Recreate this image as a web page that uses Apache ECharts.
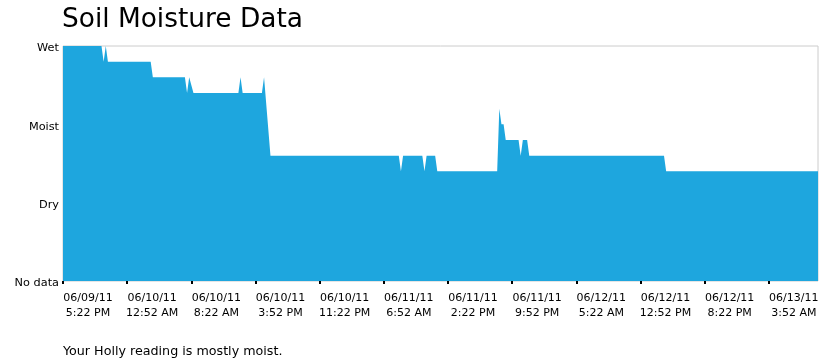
<!DOCTYPE html>
<html>
<head>
<meta charset="utf-8">
<script src="https://cdn.jsdelivr.net/npm/echarts@6/dist/echarts.min.js"></script>
<style>
html,body{margin:0;padding:0;background:#fff;}
#chart{width:833px;height:361px;}
</style>
</head>
<body>
<div id="chart"></div>
<script>
// Readings every 15 minutes: sample index and moisture level (0 = No data, 1 = Dry, 2 = Moist, 3 = Wet)
var sampleIndex = [0, 18, 19, 20, 21, 41, 42, 57, 58, 59, 61, 82, 83, 84, 93, 94, 97, 157, 158, 159, 168, 169, 170, 174, 175, 203, 204, 205, 206, 207, 213, 214, 215, 217, 218, 281, 282, 353];
var moisture    = [3.0, 3.0, 2.8, 3.0, 2.8, 2.8, 2.6, 2.6, 2.4, 2.6, 2.4, 2.4, 2.6, 2.4, 2.4, 2.6, 1.6, 1.6, 1.4, 1.6, 1.6, 1.4, 1.6, 1.6, 1.4, 1.4, 2.2, 2.0, 2.0, 1.8, 1.8, 1.6, 1.8, 1.8, 1.6, 1.6, 1.4, 1.4];
var levelLabels = ['No data', 'Dry', 'Moist', 'Wet'];
var tickDates = ['06/09/11', '06/10/11', '06/10/11', '06/10/11', '06/10/11', '06/11/11',
                 '06/11/11', '06/11/11', '06/12/11', '06/12/11', '06/12/11', '06/13/11'];
var tickTimes = ['5:22 PM', '12:52 AM', '8:22 AM', '3:52 PM', '11:22 PM', '6:52 AM',
                 '2:22 PM', '9:52 PM', '5:22 AM', '12:52 PM', '8:22 PM', '3:52 AM'];
var samplesPerTick = 30;
var lastSample = 353;
var titleText = 'Soil Moisture Data';
var footerText = 'Your Holly reading is mostly moist.';

var tickValues = tickDates.map(function (_, i) { return i * samplesPerTick; });
var seriesData = sampleIndex.map(function (x, i) { return [x, moisture[i]]; });
var FONT = 'DejaVu Sans';

var chart = echarts.init(document.getElementById('chart'), null, {renderer: 'canvas'});
chart.setOption({
  animation: false,
  backgroundColor: '#fff',
  title: {
    text: titleText,
    left: 57, top: 2,
    textStyle: {fontFamily: FONT, fontSize: 26.4, fontWeight: 'normal', color: '#000'}
  },
  grid: {
    left: 63, right: 15, top: 46, bottom: 80,
    show: true, borderColor: '#cccccc', borderWidth: 1, backgroundColor: 'transparent'
  },
  xAxis: {
    type: 'value', min: 0, max: lastSample, interval: samplesPerTick,
    axisLine: {show: false},
    splitLine: {show: false},
    axisTick: {show: true, length: 3, customValues: tickValues, lineStyle: {color: '#000', width: 2}},
    axisLabel: {
      customValues: tickValues,
      hideOverlap: false,
      fontFamily: FONT, fontSize: 11, color: '#000', lineHeight: 15,
      margin: 10, align: 'left',
      formatter: function (v) {
        var k = Math.round(v / samplesPerTick);
        if (k < 0 || k >= tickDates.length) return '';
        return '{a|' + tickDates[k] + '}\n{a|' + tickTimes[k] + '}';
      },
      rich: {
        a: {width: 50, align: 'center', fontFamily: FONT, fontSize: 11, color: '#000', lineHeight: 15}
      }
    }
  },
  yAxis: {
    type: 'value', min: 0, max: 3, interval: 1,
    axisLine: {show: false},
    axisTick: {show: false},
    splitLine: {show: false},
    axisLabel: {
      fontFamily: FONT, fontSize: 11.3, color: '#000', margin: 4,
      formatter: function (v) { return '{b|' + levelLabels[Math.round(v)] + '}'; },
      rich: {
        b: {fontFamily: FONT, fontSize: 11.3, color: '#000', padding: [5, 0, 0, 0]}
      }
    }
  },
  series: [{
    type: 'line',
    data: seriesData,
    showSymbol: false,
    symbol: 'none',
    lineStyle: {width: 0},
    areaStyle: {color: '#1ea6de', opacity: 1},
    silent: true
  }],
  graphic: [{
    type: 'text', left: 63, top: 345,
    style: {text: footerText, font: '12.7px "DejaVu Sans"', fill: '#000'}
  }]
});
</script>
</body>
</html>
